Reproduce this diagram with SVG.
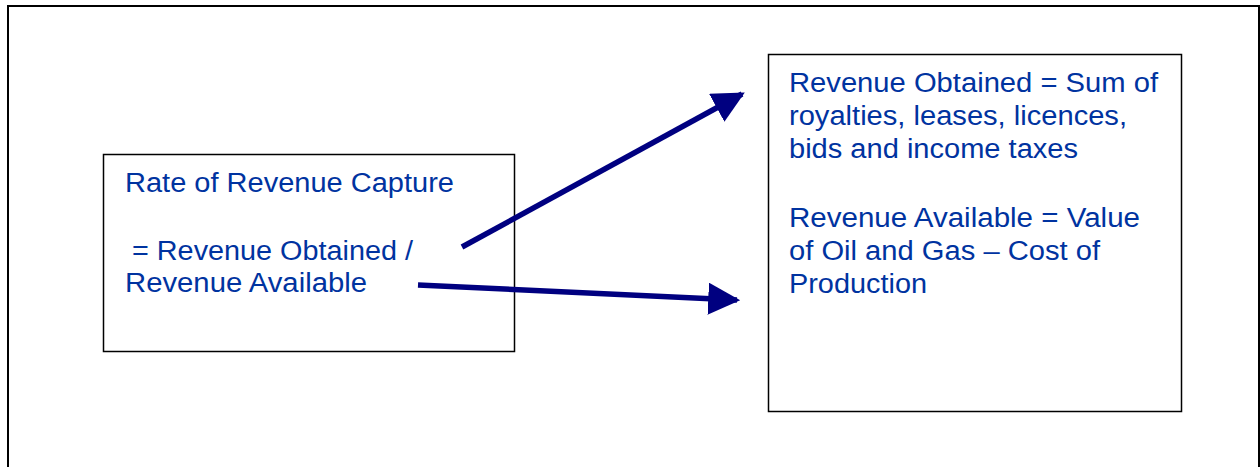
<svg xmlns="http://www.w3.org/2000/svg" width="1260" height="467" viewBox="0 0 1260 467">
<style>
.box{fill:#fff;stroke:#000;stroke-width:1.5}
.t{font-family:"Liberation Sans",Arial,sans-serif;font-size:27px;fill:#0033A0}
.arr{stroke:#000080;stroke-width:5.5;fill:none;marker-end:url(#ah)}
</style>
<defs>
<marker id="ah" viewBox="0 0 10 10" refX="9" refY="5" markerUnits="userSpaceOnUse" markerWidth="32" markerHeight="32" orient="auto">
<path d="M0,0 L10,5 L0,10 z" fill="#000080"/>
</marker>
</defs>
<rect x="0" y="0" width="1260" height="467" fill="#fff"/>
<path d="M8,470 V6 H1259 V470" fill="none" stroke="#000" stroke-width="2"/>
<g id="left">
<rect class="box" x="103.5" y="154.5" width="411" height="197"/>
<text class="t" x="125" y="192" textLength="329" lengthAdjust="spacingAndGlyphs">Rate of Revenue Capture</text>
<text class="t" x="132" y="260" textLength="281" lengthAdjust="spacingAndGlyphs">= Revenue Obtained /</text>
<text class="t" x="125" y="292" textLength="242" lengthAdjust="spacingAndGlyphs">Revenue Available</text>
</g>
<g id="right">
<rect class="box" x="768.5" y="54.5" width="413" height="357"/>
<text class="t" x="789" y="92" textLength="369" lengthAdjust="spacingAndGlyphs">Revenue Obtained = Sum of</text>
<text class="t" x="789" y="125" textLength="338" lengthAdjust="spacingAndGlyphs">royalties, leases, licences,</text>
<text class="t" x="789" y="158" textLength="289" lengthAdjust="spacingAndGlyphs">bids and income taxes</text>
<text class="t" x="789" y="227" textLength="351" lengthAdjust="spacingAndGlyphs">Revenue Available = Value</text>
<text class="t" x="789" y="260" textLength="311" lengthAdjust="spacingAndGlyphs">of Oil and Gas – Cost of</text>
<text class="t" x="789" y="293" textLength="138" lengthAdjust="spacingAndGlyphs">Production</text>
</g>
<g id="connectors">
<line class="arr" x1="462" y1="247" x2="742" y2="94"/>
<line class="arr" x1="418" y1="285" x2="737" y2="300"/>
</g>
</svg>
